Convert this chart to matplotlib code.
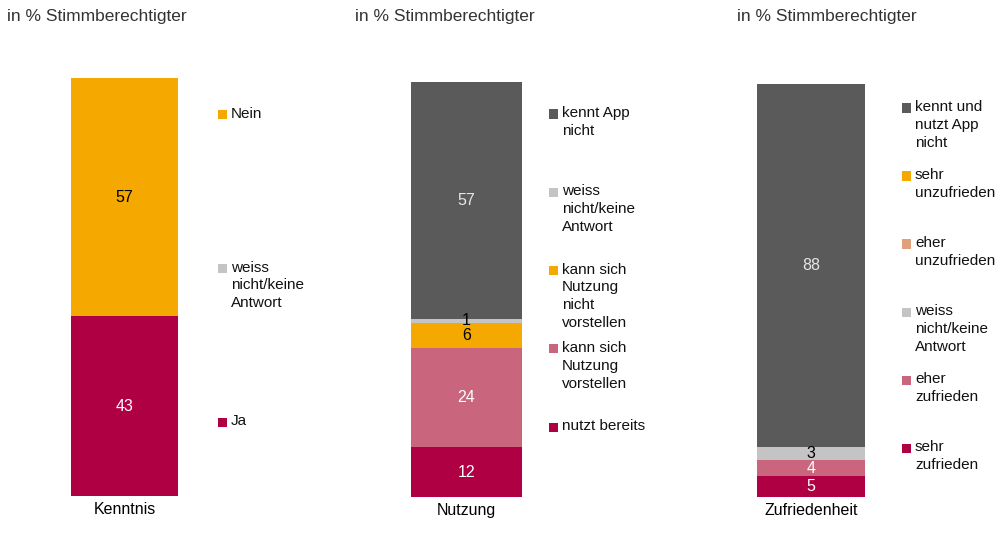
import matplotlib
matplotlib.use("Agg")
import matplotlib.pyplot as plt
from matplotlib.patches import Rectangle

plt.rcParams.update({
    "font.family": ["Liberation Sans", "DejaVu Sans"],
    "font.size": 11,
    "text.color": "#222222",
})

W, H = 1001, 534

# ── data (stack order: bottom -> top) ───────────────────────────────────
kenntnis_labels = ["Ja", "weiss\nnicht/keine\nAntwort", "Nein"]
kenntnis_values = [43, 0, 57]
kenntnis_colors = ["#B00044", "#C4C4C4", "#F5A800"]

nutzung_labels = ["nutzt bereits", "kann sich\nNutzung\nvorstellen",
                  "kann sich\nNutzung\nnicht\nvorstellen",
                  "weiss\nnicht/keine\nAntwort", "kennt App\nnicht"]
nutzung_values = [12, 24, 6, 1, 57]
nutzung_colors = ["#B00044", "#C9667E", "#F5A800", "#C4C4C4", "#5A5A5A"]

zufr_labels = ["sehr\nzufrieden", "eher\nzufrieden", "weiss\nnicht/keine\nAntwort",
               "eher\nunzufrieden", "sehr\nunzufrieden", "kennt und\nnutzt App\nnicht"]
zufr_values = [5, 4, 3, 0, 0, 88]
zufr_colors = ["#B00044", "#C9667E", "#C4C4C4", "#E0A07A", "#F5A800", "#5A5A5A"]

categories = ["Kenntnis", "Nutzung", "Zufriedenheit"]
subtitle = "in % Stimmberechtigter"

# value label colour per segment (dark text on light fills)
kenntnis_txt = ["white", "black", "black"]
nutzung_txt = ["white", "white", "black", "black", "#E6E6E6"]
zufr_txt = ["white", "white", "black", "black", "black", "#E6E6E6"]

# ── layout in pixels: bar box, title x, legend marker x, first y, step ──
panels = [
    dict(box=(71, 178, 78, 496), title_x=7, leg_x=218, leg_y0=115, leg_dy=153.5,
         labels=kenntnis_labels, values=kenntnis_values, colors=kenntnis_colors,
         txt=kenntnis_txt),
    dict(box=(411, 522, 82, 497), title_x=355, leg_x=549, leg_y0=114, leg_dy=78.3,
         labels=nutzung_labels, values=nutzung_values, colors=nutzung_colors,
         txt=nutzung_txt),
    dict(box=(757, 865, 84, 497), title_x=737, leg_x=902, leg_y0=108, leg_dy=68,
         labels=zufr_labels, values=zufr_values, colors=zufr_colors,
         txt=zufr_txt),
]

fig = plt.figure(figsize=(W / 100, H / 100), dpi=100)


def fx(px):
    return px / W


def fy(py):
    return 1 - py / H


for cat, p in zip(categories, panels):
    l, r, t, b = p["box"]
    ax = fig.add_axes([fx(l), fy(b), fx(r) - fx(l), fy(t) - fy(b)])
    bottom = 0
    for val, col, tc in zip(p["values"], p["colors"], p["txt"]):
        ax.bar(0, val, bottom=bottom, width=1.0, color=col, linewidth=0)
        if val > 0:
            ax.text(0, bottom + val / 2, f"{val}", ha="center", va="center",
                    color=tc, fontsize=11.5)
        bottom += val
    ax.set_xlim(-0.5, 0.5)
    ax.set_ylim(0, 100)
    for s in ax.spines.values():
        s.set_visible(False)
    ax.set_yticks([])
    ax.set_xticks([0])
    ax.set_xticklabels([cat], fontsize=11.5, color="black")
    ax.tick_params(axis="x", length=0, pad=4)

    fig.text(fx(p["title_x"]), fy(16), subtitle, ha="left", va="center",
             color="#333333", fontsize=12.5)

    # legend, top of stack first
    sq = 9
    for i, (lab, col) in enumerate(zip(p["labels"][::-1], p["colors"][::-1])):
        yc = p["leg_y0"] + i * p["leg_dy"]
        fig.patches.append(Rectangle((fx(p["leg_x"]), fy(yc + sq / 2)),
                                     sq / W, sq / H, transform=fig.transFigure,
                                     facecolor=col, edgecolor="none"))
        fig.text(fx(p["leg_x"] + 13), fy(yc - 8), lab, ha="left", va="top",
                 fontsize=11, linespacing=1.35, color="#111111")

fig.savefig("out.png", dpi=100, facecolor="white")
